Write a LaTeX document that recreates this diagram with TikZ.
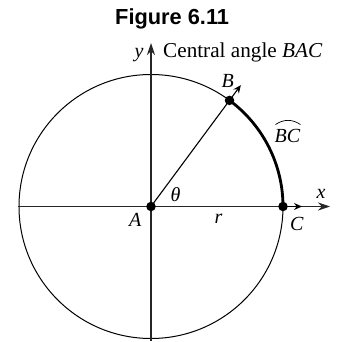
\documentclass[tikz,border=0pt]{standalone}
\usepackage{fontspec}
\setmainfont{Liberation Serif}
\newfontfamily\titlefont{Liberation Sans}
\usetikzlibrary{arrows.meta}
\begin{document}
\begin{tikzpicture}[x=1pt,y=-1pt,
  dot/.style={circle,fill=black,inner sep=0pt,minimum size=9.5pt},
  lab/.style={inner sep=0pt,font=\fontsize{20}{22}\selectfont\itshape},
  axis/.style={line width=1.3pt,draw=black!85,-{Stealth[length=12pt,width=8pt]}},
  ray/.style={line width=1.1pt,-{Stealth[length=8pt,width=7pt]}},
  thin circ/.style={line width=1pt},
  thick arc/.style={line width=2.8pt}]
\useasboundingbox (0,0) rectangle (337,342);
\def\R{132}
\coordinate (ctr) at (151,206.5);
% axes
\coordinate (xl) at (18,206.5);
\coordinate (xr) at (330,206.5);
\coordinate (yb) at (151,341);
\coordinate (yt) at (151,43);
\draw[thin circ] (ctr) circle[radius=\R];
\draw[axis] (xl) -- (xr);
\draw[axis] (yb) -- (yt);
% arc BC
\draw[thick arc] ([shift={(0:\R)}]ctr) arc[start angle=0,end angle=-53.5,radius=\R];
% points
\node[dot] (A) at (ctr) {};
\node[dot] (B) at ([shift={(-53.5:\R)}]ctr) {};
\node[dot] (C) at ([shift={(0:\R)}]ctr) {};
\coordinate (Bt) at ([shift={(-53.5:151)}]ctr);
\coordinate (Ct) at ([shift={(0:151)}]ctr);
\draw[ray] (A.center) -- (Bt);
\draw[ray] (C.center) -- (Ct);
% labels
\node[inner sep=0pt,anchor=base west,font=\titlefont\bfseries\fontsize{21.8}{24}\selectfont] (title) at (115,25) {Figure 6.11};
\node[lab,anchor=base west] (ylab) at (134.5,58) {y};
\node[inner sep=0pt,anchor=base west,font=\fontsize{21.2}{23}\selectfont] (cap) at (163,58) {Central angle \textit{BAC}};
\node[lab,anchor=base west] (Blab) at (221.5,88) {B};
\node[lab,anchor=base west] (Alab) at (129,226.5) {A};
\node[lab,anchor=base west] (rlab) at (214.5,223) {r};
\node[lab,anchor=base west] (tlab) at (170.5,201) {θ};
\node[lab,anchor=base west] (Clab) at (290,230) {C};
\node[lab,anchor=base west] (xlab) at (316.5,198) {x};
\node[lab,anchor=base west] (bc) at (274.5,142) {BC};
\draw[line width=0.7pt] ([xshift=1pt,yshift=4pt]bc.north west) to[bend left=35] ([xshift=0pt,yshift=4pt]bc.north east);
\end{tikzpicture}
\end{document}
